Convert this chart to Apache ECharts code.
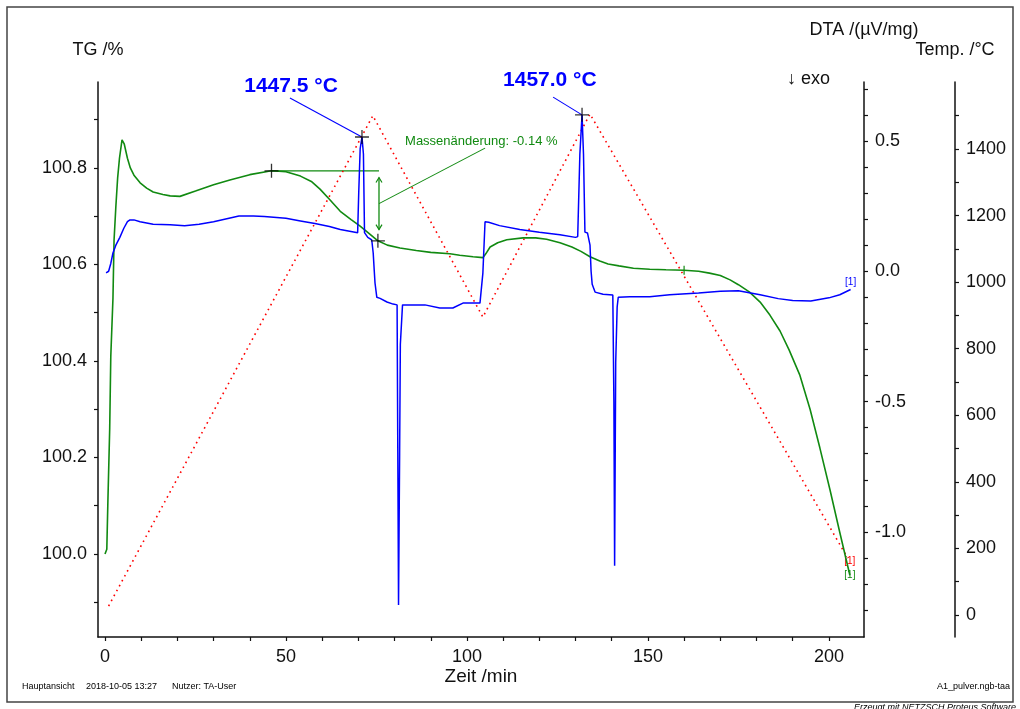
<!DOCTYPE html>
<html>
<head>
<meta charset="utf-8">
<script src="https://cdn.jsdelivr.net/npm/echarts@6/dist/echarts.min.js"></script>
<style>
html, body { margin: 0; padding: 0; background: #fff; }
#main { width: 1020px; height: 709px; }
</style>
</head>
<body>
<div id="main"></div>
<script>
// ---- Measurement data (time in min) ----
// TG curve (mass, %)
const tgTime = [0, 0.5, 0.8, 1.3, 1.6, 2.2, 2.5, 3.0, 3.5, 4.0, 4.7, 5.3, 6.2, 7.0, 8.0, 9.7, 11.5, 13.3, 16, 18, 20.7, 25, 30, 34.5, 40, 46, 50, 54, 57, 59.4, 62, 65, 68, 70.4, 73, 75.4, 78, 81.5, 86, 90, 95.3, 98, 101.7, 104.4, 105.2, 106.4, 108.5, 111, 115.5, 119, 122, 125.7, 129, 131.5, 134, 136.7, 139, 142, 146, 150.5, 155, 160, 164, 167, 170, 172.7, 175, 178, 181, 183.7, 186.5, 189, 192, 194.8, 197.5, 200.3, 203, 205.8];
const tgValue = [100.00, 100.01, 100.11, 100.26, 100.41, 100.53, 100.65, 100.72, 100.78, 100.82, 100.858, 100.85, 100.82, 100.80, 100.785, 100.769, 100.758, 100.75, 100.745, 100.742, 100.741, 100.752, 100.765, 100.775, 100.786, 100.794, 100.792, 100.783, 100.772, 100.756, 100.735, 100.710, 100.693, 100.680, 100.664, 100.649, 100.640, 100.634, 100.629, 100.625, 100.622, 100.619, 100.616, 100.614, 100.622, 100.636, 100.645, 100.651, 100.655, 100.655, 100.652, 100.645, 100.636, 100.627, 100.616, 100.607, 100.601, 100.597, 100.592, 100.590, 100.589, 100.588, 100.586, 100.582, 100.577, 100.568, 100.558, 100.543, 100.522, 100.495, 100.462, 100.423, 100.370, 100.300, 100.220, 100.133, 100.045, 99.956];

// DTA curve (µV/mg)
const dtaTime = [0.3, 1.0, 1.6, 2.2, 3.0, 4.1, 5.2, 6.2, 6.9, 8.0, 9.7, 11.5, 13.3, 18, 22, 26, 30, 37, 41, 44, 50, 54, 58, 62, 65, 69.8, 70.1, 70.5, 71.0, 71.4, 71.7, 72.6, 73.7, 74.1, 74.4, 74.6, 75.1, 76.0, 77.9, 79.6, 80.7, 80.9, 81.1, 81.4, 81.6, 82.2, 85, 88.4, 92.5, 96.1, 98.9, 103.6, 104.4, 105, 106, 109, 114.6, 120, 125.7, 130, 130.6, 131.2, 131.8, 132.2, 132.6, 133.3, 134.0, 134.3, 134.6, 135.4, 137.6, 140.3, 140.6, 140.8, 141.1, 141.5, 141.8, 145, 150.5, 156, 164, 170, 175, 181, 186, 190, 195, 200, 203, 206];
const dtaValue = [-0.006, 0.0, 0.03, 0.07, 0.10, 0.13, 0.165, 0.19, 0.197, 0.197, 0.19, 0.185, 0.18, 0.178, 0.175, 0.18, 0.19, 0.212, 0.212, 0.21, 0.203, 0.193, 0.183, 0.172, 0.160, 0.148, 0.30, 0.47, 0.515, 0.45, 0.148, 0.13, 0.12, 0.07, 0.0, -0.045, -0.10, -0.104, -0.118, -0.126, -0.129, -0.70, -1.28, -0.70, -0.28, -0.129, -0.129, -0.129, -0.141, -0.141, -0.122, -0.122, -0.007, 0.19, 0.188, 0.175, 0.16, 0.15, 0.14, 0.13, 0.133, 0.45, 0.60, 0.45, 0.15, 0.147, 0.10, 0.0, -0.05, -0.08, -0.088, -0.091, -0.5, -1.13, -0.35, -0.137, -0.10, -0.098, -0.098, -0.09, -0.083, -0.077, -0.075, -0.09, -0.105, -0.112, -0.114, -0.102, -0.09, -0.07];

// Furnace temperature programme (°C)
const tempTime = [1, 74, 104.4, 134, 205.2];
const tempValue = [27, 1500, 895, 1505, 171];

// Axis ticks and labels
const timeTicks = [0, 10, 20, 30, 40, 50, 60, 70, 80, 90, 100, 110, 120, 130, 140, 150, 160, 170, 180, 190, 200];
const timeLabels = [0, 50, 100, 150, 200];
const tgTicks = [99.9, 100.0, 100.1, 100.2, 100.3, 100.4, 100.5, 100.6, 100.7, 100.8, 100.9];
const tgLabels = [100.0, 100.2, 100.4, 100.6, 100.8];
const dtaTicks = [-1.3, -1.2, -1.1, -1.0, -0.9, -0.8, -0.7, -0.6, -0.5, -0.4, -0.3, -0.2, -0.1, 0, 0.1, 0.2, 0.3, 0.4, 0.5, 0.6, 0.7];
const dtaLabels = [-1.0, -0.5, 0, 0.5];
const tempTicks = [0, 100, 200, 300, 400, 500, 600, 700, 800, 900, 1000, 1100, 1200, 1300, 1400, 1500];
const tempLabels = [0, 200, 400, 600, 800, 1000, 1200, 1400];

// Evaluated points
const peakTime = [71.0, 131.8];
const peakDta = [0.515, 0.60];
const peakText = ['1447.5 °C', '1457.0 °C'];
const stepTime = [46, 75.4];
const stepTg = [100.794, 100.649];
const stepText = 'Massenänderung: -0.14 %';
const markTime = [160];
const markTg = [100.588];

const zip = (a, b) => a.map((v, i) => [v, b[i]]);

const FONT = '"Liberation Sans", Arial, sans-serif';
const INK = '#111';
const GREEN = '#118a11';
const BLUE = '#0000ff';
const RED = '#ff0000';

const chart = echarts.init(document.getElementById('main'), null, { renderer: 'canvas' });

function yAxisBase(extra) {
  return Object.assign({
    type: 'value',
    splitLine: { show: false },
    axisLine: { show: true, onZero: false, lineStyle: { color: INK, width: 1.5 } },
    nameLocation: 'end',
    nameTextStyle: { fontSize: 18, color: INK, fontFamily: FONT }
  }, extra);
}

chart.setOption({
  animation: false,
  backgroundColor: '#fff',
  grid: { left: 98, right: 156, top: 82, bottom: 72, containLabel: false },
  xAxis: {
    type: 'value', min: -1.934, max: 209.7,
    splitLine: { show: false },
    axisLine: { show: true, onZero: false, lineStyle: { color: INK, width: 1.5 } },
    axisTick: { show: true, customValues: timeTicks, length: 4, lineStyle: { color: INK, width: 1.2 } },
    axisLabel: { customValues: timeLabels, fontSize: 18, color: INK, margin: 11, fontFamily: FONT },
    name: 'Zeit /min', nameLocation: 'middle', nameGap: 30, nameMoveOverlap: false,
    nameTextStyle: { fontSize: 19, color: INK, fontFamily: FONT }
  },
  yAxis: [
    yAxisBase({
      position: 'left', min: 99.828, max: 100.978,
      axisTick: { show: true, customValues: tgTicks, length: 4, lineStyle: { color: INK, width: 1.2 } },
      axisLabel: { customValues: tgLabels, fontSize: 18, color: INK, margin: 11, fontFamily: FONT,
                   formatter: v => v.toFixed(1) },
      name: 'TG /%', nameGap: 23
    }),
    yAxisBase({
      position: 'right', offset: 0, min: -1.403, max: 0.726,
      axisTick: { show: true, customValues: dtaTicks, length: 4, lineStyle: { color: INK, width: 1.2 } },
      axisLabel: { customValues: dtaLabels, fontSize: 18, color: INK, margin: 11, fontFamily: FONT,
                   formatter: v => v.toFixed(1) },
      name: 'DTA /(µV/mg)', nameGap: 43
    }),
    yAxisBase({
      position: 'right', offset: 91, min: -66.1, max: 1601.3,
      axisTick: { show: true, customValues: tempTicks, length: 4, lineStyle: { color: INK, width: 1.2 } },
      axisLabel: { customValues: tempLabels, fontSize: 18, color: INK, margin: 11, fontFamily: FONT,
                   formatter: v => String(Math.round(v)) },
      name: 'Temp. /°C', nameGap: 23
    })
  ],
  series: [
    {
      name: 'Temp', type: 'line', yAxisIndex: 2, data: zip(tempTime, tempValue),
      showSymbol: false, silent: true,
      lineStyle: { color: RED, width: 1.6, type: [1.6, 4] }
    },
    {
      name: 'TG', type: 'line', yAxisIndex: 0, data: zip(tgTime, tgValue),
      showSymbol: false, silent: true,
      lineStyle: { color: GREEN, width: 1.6 }
    },
    {
      name: 'DTA', type: 'line', yAxisIndex: 1, data: zip(dtaTime, dtaValue),
      showSymbol: false, silent: true,
      lineStyle: { color: BLUE, width: 1.5 }
    },
    {
      name: 'DTA peaks', type: 'scatter', yAxisIndex: 1, data: zip(peakTime, peakDta),
      symbol: 'path://M0,10L20,10M10,0L10,20', symbolSize: 14, silent: true, z: 5,
      itemStyle: { color: 'none', borderColor: '#000', borderWidth: 1.3 }
    },
    {
      name: 'TG step', type: 'scatter', yAxisIndex: 0, data: zip(stepTime, stepTg),
      symbol: 'path://M0,10L20,10M10,0L10,20', symbolSize: 14, silent: true, z: 5,
      itemStyle: { color: 'none', borderColor: '#000', borderWidth: 1.3 }
    },
    {
      name: 'TG mark', type: 'scatter', yAxisIndex: 0, data: zip(markTime, markTg),
      symbol: 'rect', symbolSize: [1.5, 9], silent: true, z: 5,
      itemStyle: { color: GREEN }
    }
  ]
});

// ---- Annotations placed through the axis scales ----
const px = (seriesIndex, t, v) => chart.convertToPixel({ seriesIndex: seriesIndex }, [t, v]);
const g = [];

// outer frame
g.push({ type: 'rect', shape: { x: 7, y: 7, width: 1006, height: 695 },
         style: { fill: 'none', stroke: '#444', lineWidth: 1.5 }, silent: true });

// exo direction
g.push({ type: 'text', left: 787, top: 70,
         style: { text: '↓ exo', font: '18px ' + FONT, fill: INK } });

// peak temperatures
const peakLabelAt = [[51.4, 0.711], [122.9, 0.734]];
const peakLeaderAt = [[51.1, 0.665], [123.8, 0.668]];
peakTime.forEach((t, i) => {
  const p = px(2, t, peakDta[i]);
  const a = px(2, peakLeaderAt[i][0], peakLeaderAt[i][1]);
  const l = px(2, peakLabelAt[i][0], peakLabelAt[i][1]);
  g.push({ type: 'line', shape: { x1: a[0], y1: a[1], x2: p[0], y2: p[1] },
           style: { stroke: BLUE, lineWidth: 1.1 }, silent: true });
  g.push({ type: 'text', x: l[0], y: l[1],
           style: { text: peakText[i], font: 'bold 21px ' + FONT, fill: BLUE,
                    align: 'center', verticalAlign: 'middle' } });
});

// mass change evaluation
const arrowT = 75.7;
const h0 = px(1, stepTime[0], stepTg[0]);
const h1 = px(1, arrowT, stepTg[0]);
const aTop = px(1, arrowT, 100.780);
const aBot = px(1, arrowT, 100.672);
const aMid = px(1, arrowT, 100.726);
const leadEnd = px(1, 105, 100.841);
const txt = px(1, 82.9, 100.854);
g.push({ type: 'line', shape: { x1: h0[0], y1: h0[1], x2: h1[0], y2: h1[1] },
         style: { stroke: GREEN, lineWidth: 1.2 }, silent: true });
g.push({ type: 'line', shape: { x1: aTop[0], y1: aTop[1], x2: aBot[0], y2: aBot[1] },
         style: { stroke: GREEN, lineWidth: 1.3 }, silent: true });
g.push({ type: 'polyline', shape: { points: [[aTop[0] - 3, aTop[1] + 5], [aTop[0], aTop[1]], [aTop[0] + 3, aTop[1] + 5]] },
         style: { stroke: GREEN, lineWidth: 1.2, fill: 'none' }, silent: true });
g.push({ type: 'polyline', shape: { points: [[aBot[0] - 3, aBot[1] - 5], [aBot[0], aBot[1]], [aBot[0] + 3, aBot[1] - 5]] },
         style: { stroke: GREEN, lineWidth: 1.2, fill: 'none' }, silent: true });
g.push({ type: 'line', shape: { x1: aMid[0], y1: aMid[1], x2: leadEnd[0], y2: leadEnd[1] },
         style: { stroke: GREEN, lineWidth: 1.1 }, silent: true });
g.push({ type: 'text', x: txt[0], y: txt[1],
         style: { text: stepText, font: '13px ' + FONT, fill: GREEN,
                  align: 'left', verticalAlign: 'middle' } });

// curve end tags
const endTag = (si, t, v, color, dx, dy) => {
  const p = px(si, t, v);
  g.push({ type: 'text', x: p[0] + dx, y: p[1] + dy,
           style: { text: '[1]', font: '10px ' + FONT, fill: color,
                    align: 'center', verticalAlign: 'middle' } });
};
endTag(2, dtaTime[dtaTime.length - 1], dtaValue[dtaValue.length - 1], BLUE, 0, -7);
endTag(0, tempTime[tempTime.length - 1], tempValue[tempValue.length - 1], RED, 2, 3);
endTag(1, tgTime[tgTime.length - 1], tgValue[tgValue.length - 1], GREEN, 0, 0);

// footer
g.push({ type: 'text', left: 22, top: 682, style: { text: 'Hauptansicht', font: '9px ' + FONT, fill: '#000' } });
g.push({ type: 'text', left: 86, top: 682, style: { text: '2018-10-05 13:27', font: '9px ' + FONT, fill: '#000' } });
g.push({ type: 'text', left: 172, top: 682, style: { text: 'Nutzer: TA-User', font: '9px ' + FONT, fill: '#000' } });
g.push({ type: 'text', right: 10, top: 682, style: { text: 'A1_pulver.ngb-taa', font: '9px ' + FONT, fill: '#000' } });
g.push({ type: 'text', right: 4, top: 703, style: { text: 'Erzeugt mit NETZSCH Proteus Software', font: 'italic 9px ' + FONT, fill: '#000' } });

chart.setOption({ graphic: g });
</script>
</body>
</html>
